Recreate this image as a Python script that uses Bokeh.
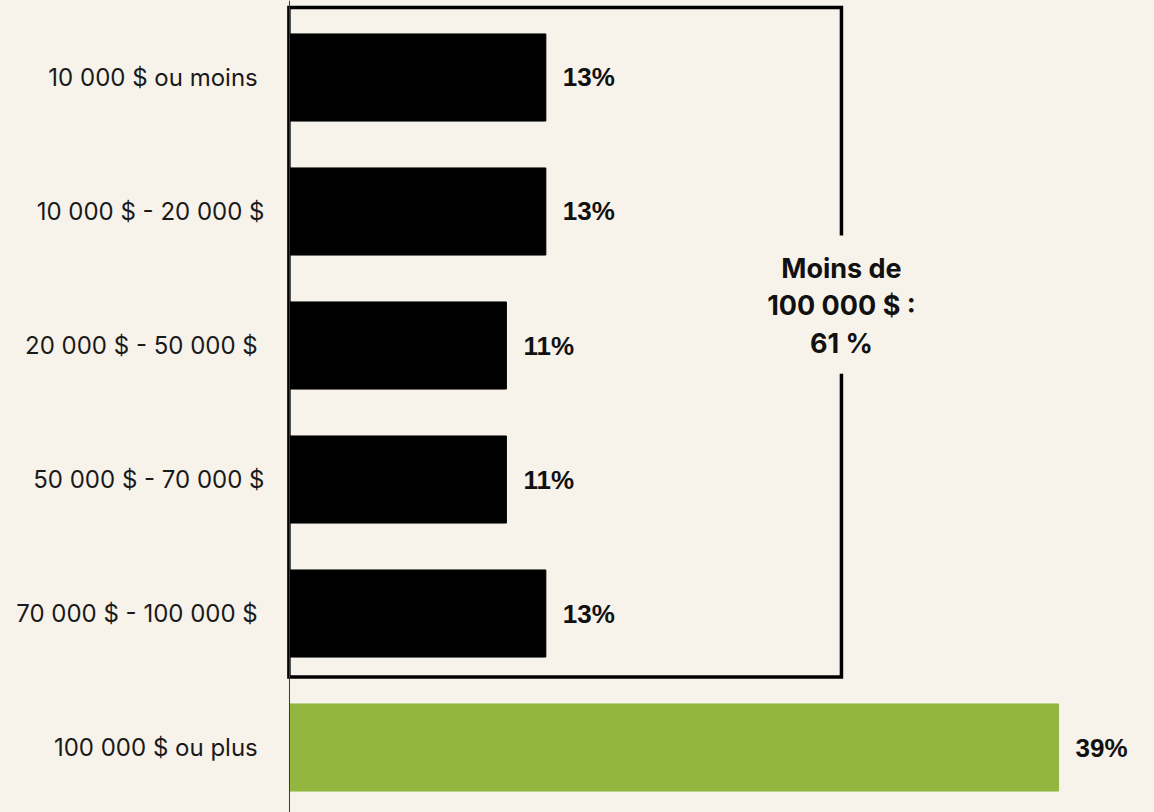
from bokeh.plotting import figure
from bokeh.models import ColumnDataSource, Range1d, FixedTicker, Span
from bokeh.core.properties import value
from bokeh.embed import file_html
from bokeh.resources import INLINE

# ---- data ----
categories = ["10 000 $ ou moins\u00a0", "10 000 $ - 20 000 $", "20 000 $ - 50 000 $\u00a0",
              "50 000 $ - 70 000 $", "70 000 $ - 100 000 $\u00a0", "100 000 $ ou plus\u00a0"]
shares = [13, 13, 11, 11, 13, 39]
share_labels = ["13%", "13%", "11%", "11%", "13%", "39%"]
bar_colors = ["#000000", "#000000", "#000000", "#000000", "#000000", "#92B640"]
bracket_lines = ["Moins de", "100 000 $ :", "61 %"]

BG = "#F7F3EA"
idx = list(range(len(categories)))

src = ColumnDataSource(dict(y=idx, v=shares, lab=share_labels, c=bar_colors))

p = figure(width=1154, height=812, output_backend="svg", toolbar_location=None,
           x_axis_location=None,
           x_range=Range1d(-0.2535, 43.865), y_range=Range1d(5.485, -0.5746),
           min_border_left=284, min_border_right=0, min_border_top=0, min_border_bottom=0)
p.background_fill_color = BG
p.border_fill_color = BG
p.outline_line_color = None
p.xgrid.visible = False
p.ygrid.visible = False

p.hbar(y="y", left=0, right="v", height=0.65, color="c", source=src)

p.text(x="v", y="y", text="lab", source=src, x_offset=17, text_align="left",
       text_baseline="middle", text_font=value("Liberation Sans"), text_font_style="bold",
       text_font_size="26px", text_color="#111111")

# axis line (value zero)
p.add_layout(Span(location=0, dimension="height", line_color="#3a3a3a", line_width=1))

# bracket around the first five rows
bx = 27.99
lx = -0.03
top_y, bot_y = -0.522, 4.474
gap_top, gap_bot = 1.18, 2.21
p.multi_line(xs=[[bx, bx, lx, lx, bx, bx]], ys=[[gap_top, top_y, top_y, bot_y, bot_y, gap_bot]],
             line_color="#000000", line_width=3.5, line_join="miter")

p.text(x=[bx] * 3, y=[1.70] * 3, text=bracket_lines, y_offset=[-37, 0, 38],
       text_align="center", text_baseline="middle", text_font=value("Inter"),
       text_font_style="bold", text_font_size="27px", text_color="#111111")

# y axis
ax = p.yaxis[0]
ax.ticker = FixedTicker(ticks=idx)
ax.major_label_overrides = {i: c for i, c in zip(idx, categories)}
ax.axis_line_color = None
ax.major_tick_line_color = None
ax.minor_tick_line_color = None
ax.major_tick_out = 0
ax.major_tick_in = 0
ax.major_label_standoff = 20
ax.major_label_text_font = "Inter"
ax.major_label_text_font_size = "24px"
ax.major_label_text_color = "#1a1a1a"

html = file_html(p, INLINE)
html = html.replace("</head>", "<style>body{background-color:%s;}</style></head>" % BG)
open("out.html", "w").write(html)
